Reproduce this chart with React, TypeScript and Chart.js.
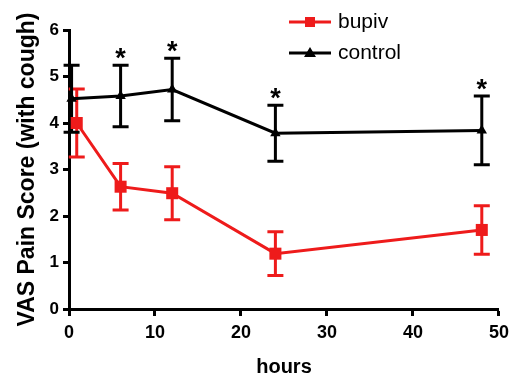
import { useEffect, useRef } from 'react';
import { Chart, registerables } from 'chart.js';

Chart.register(...registerables);

// ---- data ----
const seriesNames = ['bupiv', 'control'];
const bupivHours = [0.9, 6, 12, 24, 48];
const bupivMean = [4.0, 2.63, 2.49, 1.19, 1.7];
const bupivErr = [0.73, 0.5, 0.57, 0.47, 0.52];
const controlHours = [0.3, 6, 12, 24, 48];
const controlMean = [4.52, 4.58, 4.72, 3.78, 3.84];
const controlErr = [0.72, 0.66, 0.67, 0.6, 0.74];
const controlSignificant = [false, true, true, true, true];
const xTicks = [0, 10, 20, 30, 40, 50];
const yTicks = [0, 1, 2, 3, 4, 5, 6];

const RED = '#ee1b1b';
const BLACK = '#000000';
const FONT = '"Liberation Sans", Arial, sans-serif';

const errorBarPlugin = {
  id: 'errorBars',
  beforeDatasetsDraw(chart: any) {
    const { ctx } = chart;
    const xs = chart.scales.x;
    const ys = chart.scales.y;
    chart.data.datasets.forEach((ds: any) => {
      const errs: number[] = ds.errors || [];
      ctx.save();
      ctx.strokeStyle = ds.borderColor;
      ctx.lineWidth = 3;
      ds.data.forEach((p: any, i: number) => {
        const e = errs[i];
        const px = xs.getPixelForValue(p.x);
        const top = ys.getPixelForValue(p.y + e);
        const bot = ys.getPixelForValue(p.y - e);
        ctx.beginPath();
        ctx.moveTo(px, top);
        ctx.lineTo(px, bot);
        ctx.moveTo(px - 8, top);
        ctx.lineTo(px + 8, top);
        ctx.moveTo(px - 8, bot);
        ctx.lineTo(px + 8, bot);
        ctx.stroke();
      });
      ctx.restore();
    });
  },
  afterDatasetsDraw(chart: any) {
    const { ctx } = chart;
    const xs = chart.scales.x;
    const ys = chart.scales.y;
    const ds = chart.data.datasets[1];
    ctx.save();
    ctx.fillStyle = BLACK;
    ctx.font = `bold 27px ${FONT}`;
    ctx.textAlign = 'center';
    ctx.textBaseline = 'alphabetic';
    ds.data.forEach((p: any, i: number) => {
      if (!controlSignificant[i]) return;
      const px = xs.getPixelForValue(p.x);
      const top = ys.getPixelForValue(p.y + ds.errors[i]);
      ctx.fillText('*', px, top + 2);
    });
    ctx.restore();
  },
};

const legendPlugin = {
  id: 'lineLegend',
  afterDraw(chart: any) {
    const { ctx } = chart;
    const rows = [22, 53];
    chart.data.datasets.forEach((ds: any, i: number) => {
      const y = rows[i];
      ctx.save();
      ctx.strokeStyle = ds.borderColor;
      ctx.fillStyle = ds.borderColor;
      ctx.lineWidth = 3;
      ctx.beginPath();
      ctx.moveTo(289, y);
      ctx.lineTo(331, y);
      ctx.stroke();
      if (ds.pointStyle === 'rect') {
        ctx.fillRect(305, y - 5, 10, 10);
      } else {
        ctx.beginPath();
        ctx.moveTo(310, y - 6);
        ctx.lineTo(316, y + 4);
        ctx.lineTo(304, y + 4);
        ctx.closePath();
        ctx.fill();
      }
      ctx.fillStyle = BLACK;
      ctx.font = `21px ${FONT}`;
      ctx.textAlign = 'left';
      ctx.textBaseline = 'middle';
      ctx.fillText(ds.label, 338, y);
      ctx.restore();
    });
  },
};

export default function App() {
  const ref = useRef<HTMLCanvasElement | null>(null);
  useEffect(() => {
    if (!ref.current) return;
    const chart = new Chart(ref.current, {
      type: 'line',
      data: {
        datasets: [
          {
            label: seriesNames[0],
            data: bupivHours.map((h, i) => ({ x: h, y: bupivMean[i] })),
            errors: bupivErr,
            borderColor: RED,
            backgroundColor: RED,
            borderWidth: 3,
            pointStyle: 'rect',
            pointRadius: 8.5,
            pointBorderWidth: 0,
            clip: false,
          } as any,
          {
            label: seriesNames[1],
            data: controlHours.map((h, i) => ({ x: h, y: controlMean[i] })),
            errors: controlErr,
            borderColor: BLACK,
            backgroundColor: BLACK,
            borderWidth: 3,
            pointStyle: 'triangle',
            pointRadius: 6,
            pointBorderWidth: 0,
            clip: false,
          } as any,
        ],
      },
      options: {
        animation: false,
        responsive: true,
        maintainAspectRatio: false,
        layout: { padding: { top: 30, right: 16, left: 0, bottom: 0 } },
        plugins: { legend: { display: false }, tooltip: { enabled: false } },
        scales: {
          x: {
            type: 'linear',
            min: 0,
            max: 50,
            afterFit: (s: any) => { s.height = 68; },
            afterBuildTicks: (s: any) => { s.ticks = xTicks.map((v) => ({ value: v })); },
            grid: { display: true, drawOnChartArea: false, drawTicks: true, tickLength: 7, tickWidth: 3, tickColor: BLACK },
            border: { display: true, width: 3, color: BLACK },
            ticks: { color: BLACK, padding: 6, font: { family: FONT, size: 18, weight: 'bold' } },
            title: { display: true, text: 'hours', color: BLACK, padding: { top: 0, bottom: -2 }, font: { family: FONT, size: 20, weight: 'bold' } },
          },
          y: {
            type: 'linear',
            min: 0,
            max: 6,
            afterFit: (s: any) => { s.width = 69; },
            afterBuildTicks: (s: any) => { s.ticks = yTicks.map((v) => ({ value: v })); },
            grid: { display: true, drawOnChartArea: false, drawTicks: true, tickLength: 6, tickWidth: 3, tickColor: BLACK },
            border: { display: true, width: 3, color: BLACK },
            ticks: { color: BLACK, padding: 4, font: { family: FONT, size: 17, weight: 'bold' } },
            title: { display: true, text: 'VAS Pain Score (with cough)', color: BLACK, padding: { top: 14, bottom: 0 }, font: { family: FONT, size: 23, weight: 'bold' } },
          },
        },
      },
      plugins: [errorBarPlugin, legendPlugin],
    } as any);
    return () => chart.destroy();
  }, []);
  return (
    <div style={{ position: 'fixed', left: 0, top: 0, width: 515, height: 377, background: '#fff' }}>
      <canvas ref={ref} />
    </div>
  );
}
